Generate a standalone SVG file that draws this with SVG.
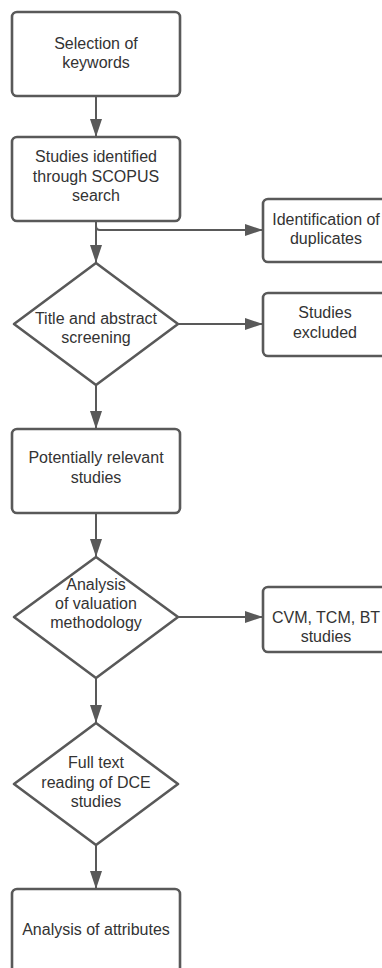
<svg xmlns="http://www.w3.org/2000/svg" width="382" height="968" viewBox="0 0 382 968">
<defs>
<style>
.box{fill:#ffffff;stroke:#595959;stroke-width:2.6;stroke-linejoin:round}
.dia{fill:#ffffff;stroke:#595959;stroke-width:2.6;stroke-linejoin:round}
.con{fill:none;stroke:#595959;stroke-width:2}
text{font-family:"Liberation Sans",Arial,sans-serif;font-size:16px;fill:#333333;text-anchor:middle}
</style>
<marker id="arr" viewBox="0 0 18 12" refX="18" refY="6" markerWidth="18" markerHeight="12" markerUnits="userSpaceOnUse" orient="auto">
<path d="M0,0 L18,6 L0,12 z" fill="#595959"/>
</marker>
</defs>
<rect width="382" height="968" fill="#ffffff"/>
<g id="connectors">
<path class="con" d="M96,96 V137" marker-end="url(#arr)"/>
<path class="con" d="M96,221 V263" marker-end="url(#arr)"/>
<path class="con" d="M96,221 V226 Q96,230 100,230 H263" marker-end="url(#arr)"/>
<path class="con" d="M178,324 H263" marker-end="url(#arr)"/>
<path class="con" d="M96,385 V429" marker-end="url(#arr)"/>
<path class="con" d="M96,513 V557" marker-end="url(#arr)"/>
<path class="con" d="M178,617 H263" marker-end="url(#arr)"/>
<path class="con" d="M96,678 V723" marker-end="url(#arr)"/>
<path class="con" d="M96,845 V889" marker-end="url(#arr)"/>
</g>
<g id="n1">
<rect class="box" x="12" y="12" width="168" height="84" rx="5"/>
<text x="96" y="49">Selection of</text>
<text x="96" y="68">keywords</text>
</g>
<g id="n2">
<rect class="box" x="12" y="137" width="168" height="84" rx="5"/>
<text x="96" y="162">Studies identified</text>
<text x="96" y="181.5">through SCOPUS</text>
<text x="96" y="201">search</text>
</g>
<g id="n3">
<rect class="box" x="263" y="199" width="126" height="63" rx="5"/>
<text x="326" y="225">Identification of</text>
<text x="326" y="244">duplicates</text>
</g>
<g id="n4">
<path class="dia" d="M96,263 L178,324 L96,385 L14,324 Z"/>
<text x="96" y="324">Title and abstract</text>
<text x="96" y="343">screening</text>
</g>
<g id="n5">
<rect class="box" x="263" y="293" width="126" height="63" rx="5"/>
<text x="325" y="318">Studies</text>
<text x="325" y="338">excluded</text>
</g>
<g id="n6">
<rect class="box" x="12" y="429" width="168" height="84" rx="5"/>
<text x="96" y="463">Potentially relevant</text>
<text x="96" y="483">studies</text>
</g>
<g id="n7">
<path class="dia" d="M96,557 L178,617 L96,678 L14,617 Z"/>
<text x="96" y="590">Analysis</text>
<text x="96" y="609">of valuation</text>
<text x="96" y="628">methodology</text>
</g>
<g id="n8">
<rect class="box" x="263" y="587" width="126" height="65" rx="5"/>
<text x="326" y="623">CVM, TCM, BT</text>
<text x="326" y="642">studies</text>
</g>
<g id="n9">
<path class="dia" d="M96,723 L178,784 L96,845 L14,784 Z"/>
<text x="96" y="768">Full text</text>
<text x="96" y="788">reading of DCE</text>
<text x="96" y="807">studies</text>
</g>
<g id="n10">
<rect class="box" x="12" y="889" width="168" height="84" rx="5"/>
<text x="96" y="935">Analysis of attributes</text>
</g>
</svg>
